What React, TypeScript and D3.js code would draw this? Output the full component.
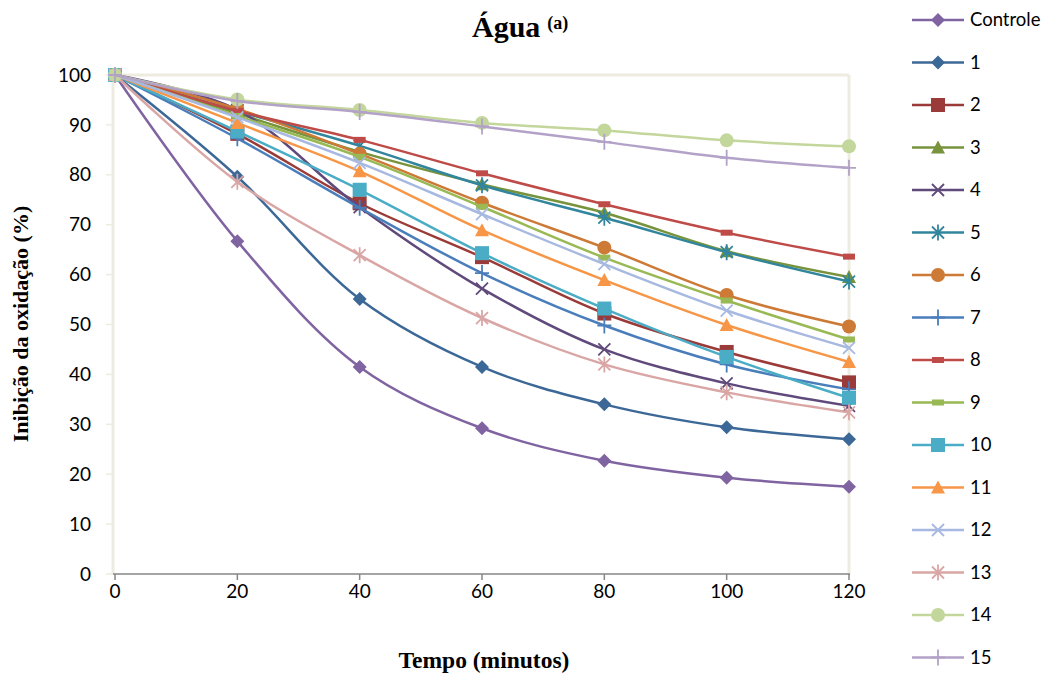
import React from "react";
import * as d3 from "d3";

const times = [0, 20, 40, 60, 80, 100, 120];
const seriesNames = ["Controle", "1", "2", "3", "4", "5", "6", "7", "8", "9", "10", "11", "12", "13", "14", "15"];
const controle = [100, 66.7, 41.5, 29.2, 22.7, 19.3, 17.5];
const s1 = [100, 79.6, 55.1, 41.5, 34.0, 29.4, 27.0];
const s2 = [100, 88.2, 74.3, 63.5, 52.2, 44.5, 38.4];
const s3 = [100, 92.3, 84.6, 78.1, 72.4, 64.7, 59.5];
const s4 = [100, 93.0, 73.5, 57.2, 45.0, 38.2, 33.7];
const s5 = [100, 92.8, 85.8, 77.9, 71.4, 64.5, 58.6];
const s6 = [100, 93.2, 84.2, 74.4, 65.4, 55.9, 49.6];
const s7 = [100, 87.3, 73.4, 60.3, 49.8, 42.0, 37.0];
const s8 = [100, 92.8, 87.0, 80.3, 74.1, 68.4, 63.6];
const s9 = [100, 91.8, 83.6, 73.6, 63.4, 54.8, 47.0];
const s10 = [100, 88.7, 77.0, 64.3, 53.2, 43.5, 35.3];
const s11 = [100, 90.4, 80.7, 68.9, 58.9, 49.9, 42.5];
const s12 = [100, 91.5, 82.4, 72.1, 62.1, 52.8, 45.3];
const s13 = [100, 78.6, 63.9, 51.3, 42.0, 36.4, 32.4];
const s14 = [100, 95.1, 93.0, 90.4, 88.9, 86.9, 85.7];
const s15 = [100, 94.8, 92.6, 89.7, 86.6, 83.4, 81.4];
const seriesValues = [controle, s1, s2, s3, s4, s5, s6, s7, s8, s9, s10, s11, s12, s13, s14, s15];
const seriesColors = [
  "#8064A2", "#3C6897", "#9B3B39", "#77933C", "#604A7B", "#31859C", "#CC7A36", "#4A7EBB",
  "#BE4B48", "#98B954", "#4BACC6", "#F79646", "#A7B9E1", "#D9A6A5", "#C3D69B", "#B3A2C7",
];
const seriesMarkers = [
  "diamond", "diamond", "square", "triangle", "x", "star", "circle", "plus",
  "dash", "dash", "square", "triangle", "x", "star", "circle", "plus",
];
const yTicks = [0, 10, 20, 30, 40, 50, 60, 70, 80, 90, 100];
const xTicks = [0, 20, 40, 60, 80, 100, 120];

function Marker({ type, x, y, color }: { type: string; x: number; y: number; color: string }) {
  const s = 6;
  switch (type) {
    case "diamond":
      return <path d={`M${x},${y - 7}L${x + 7},${y}L${x},${y + 7}L${x - 7},${y}Z`} fill={color} />;
    case "square":
      return <rect x={x - 7} y={y - 7} width={14} height={14} fill={color} />;
    case "triangle":
      return <path d={`M${x},${y - 7}L${x + 7},${y + 6}L${x - 7},${y + 6}Z`} fill={color} />;
    case "circle":
      return <circle cx={x} cy={y} r={7} fill={color} />;
    case "x":
      return (
        <path d={`M${x - s},${y - s}L${x + s},${y + s}M${x - s},${y + s}L${x + s},${y - s}`} stroke={color} strokeWidth={1.8} />
      );
    case "star":
      return (
        <path
          d={`M${x - s},${y - s}L${x + s},${y + s}M${x - s},${y + s}L${x + s},${y - s}M${x},${y - 8}L${x},${y + 8}`}
          stroke={color}
          strokeWidth={1.8}
        />
      );
    case "plus":
      return <path d={`M${x - 7},${y}L${x + 7},${y}M${x},${y - 8}L${x},${y + 8}`} stroke={color} strokeWidth={1.8} />;
    case "dash":
      return <rect x={x - 6} y={y - 3} width={12} height={6} fill={color} />;
    default:
      return null;
  }
}

export default function App() {
  const width = 1048;
  const height = 673;
  const x = d3.scaleLinear().domain([0, 120]).range([115, 849]);
  const y = d3.scaleLinear().domain([0, 100]).range([574, 75]);
  const line = d3
    .line<number>()
    .x((_, i) => x(times[i]))
    .y((d) => y(d))
    .curve(d3.curveCatmullRom.alpha(0.5));

  const legendY0 = 20;
  const legendStep = 42.5;
  const sans = "Lato, 'Open Sans', sans-serif";
  const serif = "'Liberation Serif', 'Times New Roman', serif";

  return (
    <svg width={width} height={height} style={{ position: "absolute", left: 0, top: 0, background: "#fff" }}>
      {/* plot frame */}
      <line x1={113} y1={75} x2={849} y2={75} stroke="#EEECE1" strokeWidth={3} />
      <line x1={849} y1={75} x2={849} y2={574} stroke="#EEECE1" strokeWidth={3} />
      <line x1={113} y1={73.5} x2={113} y2={574} stroke="#EEECE1" strokeWidth={3} />
      {yTicks.map((t) => (
        <line key={"yt" + t} x1={106} x2={113} y1={y(t)} y2={y(t)} stroke="#EEECE1" strokeWidth={1.5} />
      ))}
      <line x1={113} y1={574} x2={850} y2={574} stroke="#868686" strokeWidth={1.5} />
      {xTicks.map((t) => (
        <line key={"xt" + t} x1={x(t)} x2={x(t)} y1={574} y2={580} stroke="#868686" strokeWidth={1.5} />
      ))}
      {yTicks.map((t) => (
        <text key={"yl" + t} x={91} y={y(t)} dy="0.35em" textAnchor="end" fontFamily={sans} fontSize={19} fill="#000">
          {t}
        </text>
      ))}
      {xTicks.map((t) => (
        <text key={"xl" + t} x={x(t)} y={598} textAnchor="middle" fontFamily={sans} fontSize={19} fill="#000">
          {t}
        </text>
      ))}
      {/* series */}
      {seriesValues.map((vals, si) => (
        <g key={"s" + si}>
          <path d={line(vals) || ""} fill="none" stroke={seriesColors[si]} strokeWidth={2.5} />
          {vals.map((v, i) => (
            <Marker key={i} type={seriesMarkers[si]} x={x(times[i])} y={y(v)} color={seriesColors[si]} />
          ))}
        </g>
      ))}
      {/* title */}
      <text x={472} y={37} fontFamily={serif} fontWeight="bold" fontSize={30}>
        Água
        <tspan fontSize={18} dx={7} dy={-8}>(a)</tspan>
      </text>
      {/* axis titles */}
      <text
        transform={`translate(28,${324}) rotate(-90)`}
        textAnchor="middle"
        fontFamily={serif}
        fontWeight="bold"
        fontSize={22}
      >
        Inibição da oxidação (%)
      </text>
      <text x={484} y={668} textAnchor="middle" fontFamily={serif} fontWeight="bold" fontSize={23.5}>
        Tempo (minutos)
      </text>
      {/* legend */}
      {seriesNames.map((name, i) => {
        const ly = legendY0 + i * legendStep;
        return (
          <g key={"lg" + i}>
            <line x1={912} x2={964} y1={ly} y2={ly} stroke={seriesColors[i]} strokeWidth={2.5} />
            <Marker type={seriesMarkers[i]} x={938} y={ly} color={seriesColors[i]} />
            <text x={970} y={ly} dy="0.35em" fontFamily={sans} fontSize={18.5} fill="#000">
              {name}
            </text>
          </g>
        );
      })}
    </svg>
  );
}
